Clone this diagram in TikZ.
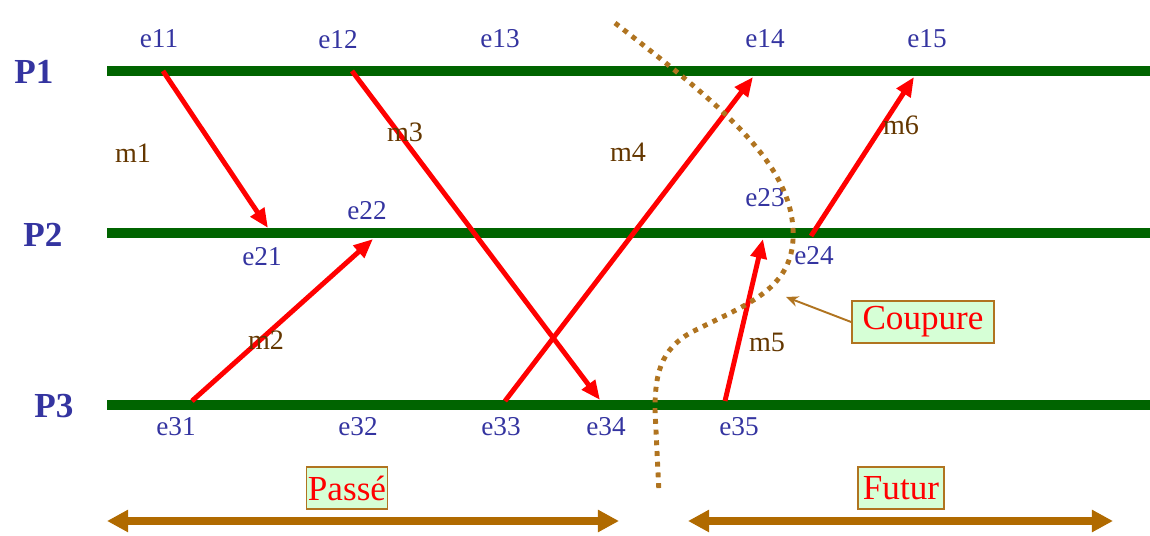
\documentclass[tikz,border=0pt]{standalone}
\usepackage{fontspec}
\setmainfont{Liberation Serif}
\usetikzlibrary{positioning}
\usetikzlibrary{arrows.meta}

\definecolor{procBlue}{RGB}{52,52,160}
\definecolor{lineGreen}{RGB}{0,100,0}
\definecolor{msgBrown}{RGB}{100,55,0}
\definecolor{cutBrown}{RGB}{176,116,32}
\definecolor{timeBrown}{RGB}{176,106,0}
\definecolor{boxFill}{RGB}{214,255,214}

\tikzset{procStyle/.style={font=\fontsize{20}{24}\selectfont\bfseries, text=procBlue, inner sep=0pt}}
\tikzset{evtStyle/.style={font=\fontsize{15.5}{18}\selectfont, text=procBlue, inner sep=0pt}}
\tikzset{msgStyle/.style={font=\fontsize{16}{19}\selectfont, text=msgBrown, inner sep=0pt}}
\tikzset{boxStyle/.style={rectangle, draw=cutBrown, fill=boxFill, line width=1pt, text=red, font=\fontsize{20}{24}\selectfont, inner sep=0pt, minimum height=0.83cm}}
\tikzset{procLine/.style={draw=lineGreen, line width=5.7pt}}
\tikzset{post/.style={-{Triangle[length=11pt,width=9pt]}, draw=red, line width=2.8pt}}
\tikzset{cutLine/.style={draw=cutBrown, line width=2.8pt, dash pattern=on 2.8pt off 3.3pt}}
\tikzset{cutPtr/.style={-{Stealth[length=7pt,width=6pt]}, draw=cutBrown, line width=1.1pt}}
\tikzset{timeArrow/.style={{Triangle[length=12pt,width=12pt]}-{Triangle[length=12pt,width=12pt]}, draw=timeBrown, line width=4.5pt}}

\begin{document}
\begin{tikzpicture}[x=0.02cm, y=-0.02cm]
  \useasboundingbox (0,0) rectangle (1150,536);

  % processes
  \node [procStyle] (P1) at (34,72) {P1};
  \node [procStyle] (P2) at (43,235) {P2};
  \node [procStyle] (P3) at (54,406) {P3};
  \coordinate (p1w) at (107,71);  \coordinate (p1e) at (1150,71);
  \coordinate (p2w) at (107,233); \coordinate (p2e) at (1150,233);
  \coordinate (p3w) at (107,405); \coordinate (p3e) at (1150,405);
  \draw [procLine] (p1w) -- (p1e);
  \draw [procLine] (p2w) -- (p2e);
  \draw [procLine] (p3w) -- (p3e);

  % event labels
  \node [evtStyle] (e11) at (159,39) {e11};
  \node [evtStyle] (e12) at (338,40) {e12};
  \node [evtStyle] (e13) at (500,39) {e13};
  \node [evtStyle] (e14) at (765,39) {e14};
  \node [evtStyle] (e15) at (927,39) {e15};
  \node [evtStyle] (e21) at (262,257) {e21};
  \node [evtStyle] (e22) at (367,211) {e22};
  \node [evtStyle] (e23) at (765,198) {e23};
  \node [evtStyle] (e24) at (814,256) {e24};
  \node [evtStyle] (e31) at (176,427) {e31};
  \node [evtStyle] (e32) at (358,427) {e32};
  \node [evtStyle] (e33) at (501,427) {e33};
  \node [evtStyle] (e34) at (606,427) {e34};
  \node [evtStyle] (e35) at (739,427) {e35};

  % points where messages leave and arrive
  \coordinate (s11) at (163,71);  \coordinate (s12) at (352,71);
  \coordinate (r14) at (753,77);  \coordinate (r15) at (914,77);
  \coordinate (r21) at (268,228); \coordinate (r22) at (373,239);
  \coordinate (r23) at (763,239); \coordinate (s24) at (811,236);
  \coordinate (s31) at (192,401); \coordinate (s33) at (505,401);
  \coordinate (r34) at (600,400); \coordinate (s35) at (725,401);

  % messages
  \draw [post] (s11) -- (r21);
  \draw [post] (s31) -- (r22);
  \draw [post] (s12) -- (r34);
  \draw [post] (s33) -- (r14);
  \draw [post] (s35) -- (r23);
  \draw [post] (s24) -- (r15);
  \node [msgStyle] (m1) at (133,153) {m1};
  \node [msgStyle] (m2) at (266,340) {m2};
  \node [msgStyle] (m3) at (405,132) {m3};
  \node [msgStyle] (m4) at (628,152) {m4};
  \node [msgStyle] (m5) at (767,342) {m5};
  \node [msgStyle] (m6) at (901,125) {m6};

  % cut
  \draw [cutLine] (615,23) .. controls (720,105) and (797,165) .. (793,240)
    .. controls (790,290) and (745,305) .. (700,328)
    .. controls (662,345) and (655,370) .. (655,410) -- (659,493);
  \node [boxStyle, minimum width=2.84cm] (coupure) at (923,322) {Coupure};
  \coordinate (cutTip) at (786,297);
  \draw [cutPtr] (coupure.west) -- (cutTip);

  % past and future
  \node [boxStyle, minimum width=1.62cm] (passe) at (347,488) {Passé};
  \node [boxStyle, minimum width=1.72cm] (futur) at (901,488) {Futur};
  \coordinate (pastL) at (107,521); \coordinate (pastR) at (619,521);
  \coordinate (futL) at (688,521);  \coordinate (futR) at (1113,521);
  \draw [timeArrow] (pastL) -- (pastR);
  \draw [timeArrow] (futL) -- (futR);
\end{tikzpicture}
\end{document}
